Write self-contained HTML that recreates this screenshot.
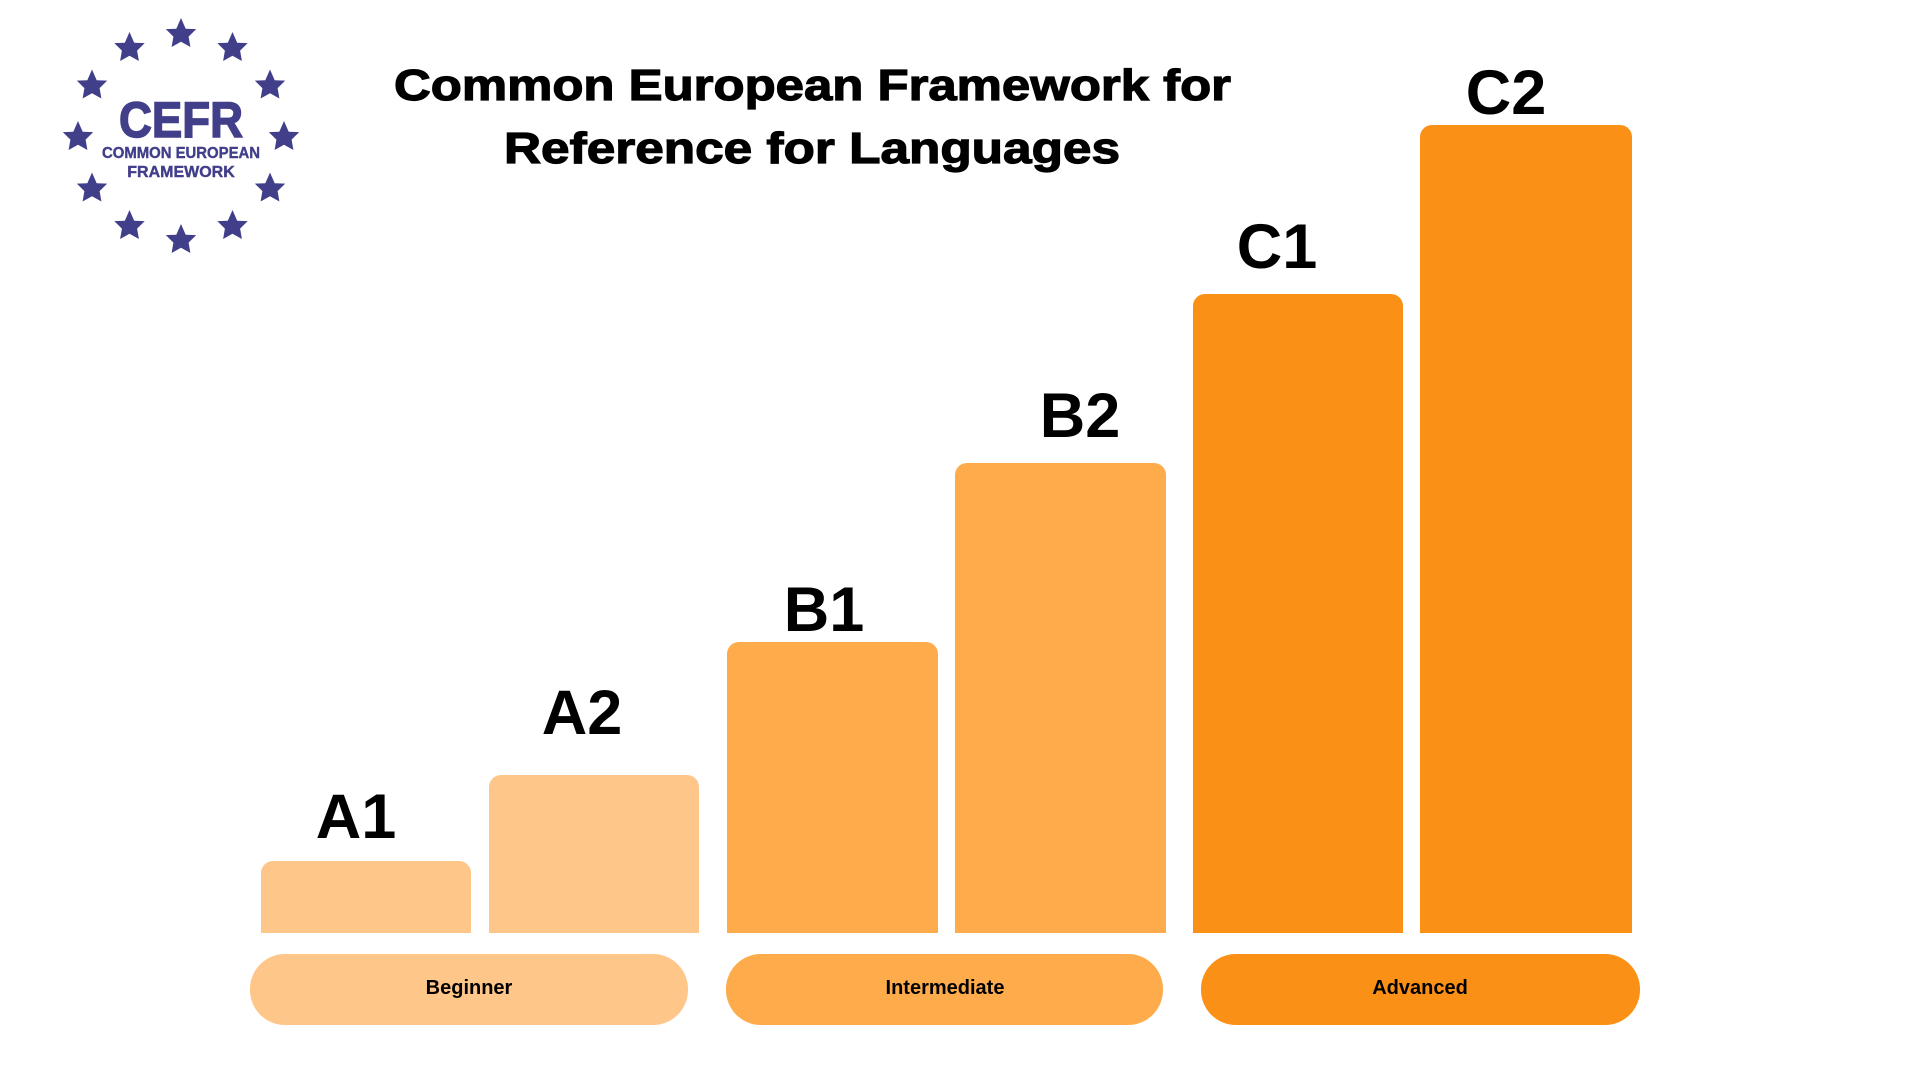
<!DOCTYPE html>
<html><head><meta charset="utf-8"><style>
html,body{margin:0;padding:0;background:#fff;}
svg{display:block}
</style></head><body>
<svg width="1920" height="1080" viewBox="0 0 1920 1080" xmlns="http://www.w3.org/2000/svg">
<defs>
<path id="st" d="M0,-16 L4.7,-5.2 L15.2,-4.9 L7.6,2.6 L9.4,13 L0,7.8 L-9.4,13 L-7.6,2.6 L-15.2,-4.9 L-4.7,-5.2 Z" fill="#423F8A"/>
</defs>
<g transform="translate(181,137)">
<use href="#st" x="0" y="-103"/>
<use href="#st" x="51.5" y="-89"/>
<use href="#st" x="89" y="-51.5"/>
<use href="#st" x="103" y="0"/>
<use href="#st" x="89" y="51.5"/>
<use href="#st" x="51.5" y="89"/>
<use href="#st" x="0" y="103"/>
<use href="#st" x="-51.5" y="89"/>
<use href="#st" x="-89" y="51.5"/>
<use href="#st" x="-103" y="0"/>
<use href="#st" x="-89" y="-51.5"/>
<use href="#st" x="-51.5" y="-89"/>
<text x="0" y="0" text-anchor="middle" font-family="Liberation Sans, sans-serif" font-weight="bold" font-size="50" fill="#423F8A" stroke="#423F8A" stroke-width="1.5" textLength="124" lengthAdjust="spacingAndGlyphs">CEFR</text>
<text x="0" y="21" text-anchor="middle" font-family="Liberation Sans, sans-serif" font-weight="bold" font-size="16" fill="#423F8A" stroke="#423F8A" stroke-width="0.4" textLength="158" lengthAdjust="spacingAndGlyphs">COMMON EUROPEAN</text>
<text x="0" y="40" text-anchor="middle" font-family="Liberation Sans, sans-serif" font-weight="bold" font-size="16" fill="#423F8A" stroke="#423F8A" stroke-width="0.4">FRAMEWORK</text>
</g>
<g font-family="Liberation Sans, sans-serif" font-weight="900" fill="#000" stroke="#000" stroke-width="1.2">
<text x="394" y="100" font-size="44" textLength="837" lengthAdjust="spacingAndGlyphs">Common European Framework for</text>
<text x="504" y="163" font-size="44" textLength="616" lengthAdjust="spacingAndGlyphs">Reference for Languages</text>
</g>
<g>
<path d="M261,933 V873 a12,12 0 0 1 12,-12 H459 a12,12 0 0 1 12,12 V933 Z" fill="#FEC689"/>
<path d="M489,933 V787 a12,12 0 0 1 12,-12 H687 a12,12 0 0 1 12,12 V933 Z" fill="#FEC689"/>
<path d="M727,933 V654 a12,12 0 0 1 12,-12 H926 a12,12 0 0 1 12,12 V933 Z" fill="#FEAB4C"/>
<path d="M955,933 V475 a12,12 0 0 1 12,-12 H1154 a12,12 0 0 1 12,12 V933 Z" fill="#FEAB4C"/>
<path d="M1193,933 V306 a12,12 0 0 1 12,-12 H1391 a12,12 0 0 1 12,12 V933 Z" fill="#FA9015"/>
<path d="M1420,933 V137 a12,12 0 0 1 12,-12 H1620 a12,12 0 0 1 12,12 V933 Z" fill="#FA9015"/>
<rect x="250" y="954" width="438" height="71" rx="35" fill="#FEC689"/>
<rect x="726" y="954" width="437" height="71" rx="35" fill="#FEAB4C"/>
<rect x="1201" y="954" width="439" height="71" rx="35" fill="#FA9015"/>
</g>
<g font-family="Liberation Sans, sans-serif" font-weight="bold" font-size="63" fill="#000" text-anchor="middle">
<text x="356" y="838">A1</text>
<text x="582" y="734">A2</text>
<text x="824" y="631">B1</text>
<text x="1080" y="437">B2</text>
<text x="1277" y="268">C1</text>
<text x="1506" y="114">C2</text>
</g>
<g font-family="Liberation Sans, sans-serif" font-weight="bold" font-size="20" fill="#000" text-anchor="middle">
<text x="469" y="994">Beginner</text>
<text x="945" y="994">Intermediate</text>
<text x="1420" y="994">Advanced</text>
</g>
</svg>
</body></html>
